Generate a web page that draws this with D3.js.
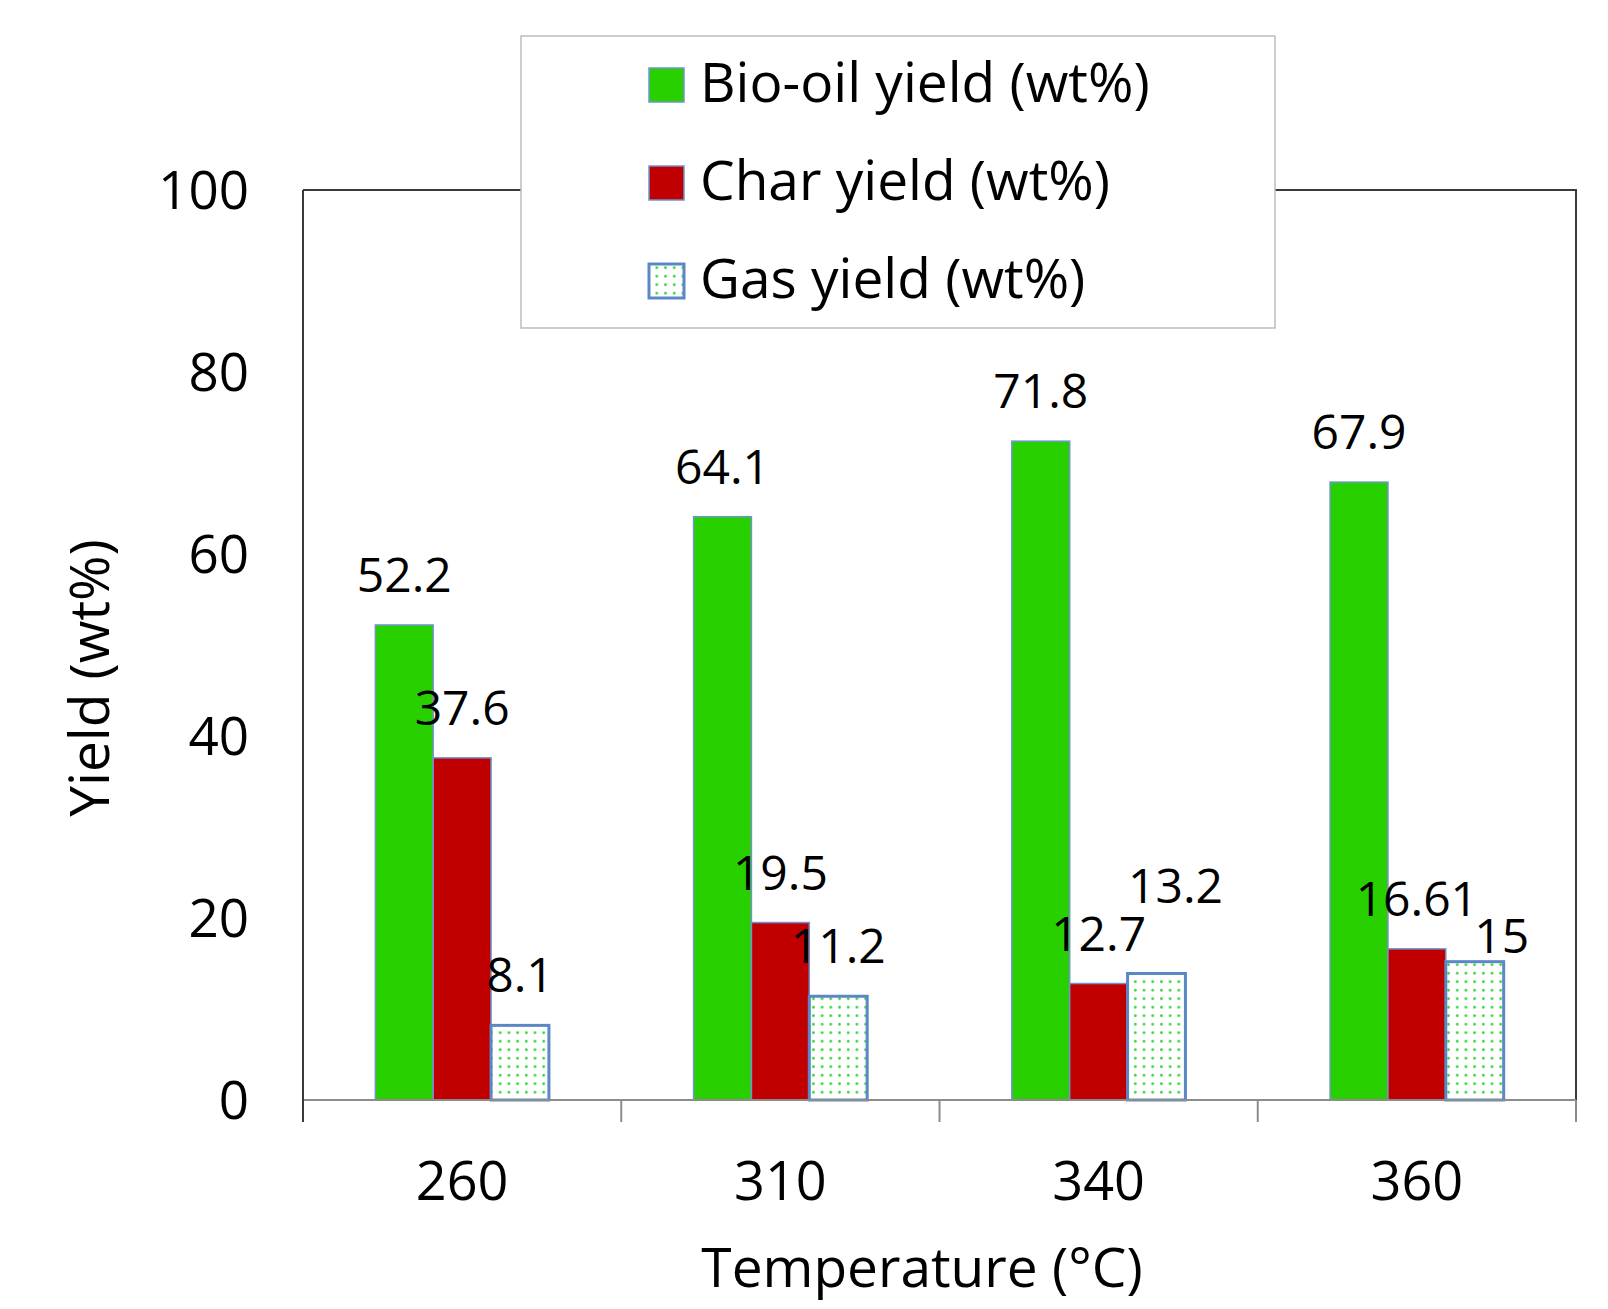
<!DOCTYPE html>
<html>
<head>
<meta charset="utf-8">
<script src="https://cdn.jsdelivr.net/npm/d3@7"></script>
<style>
  html, body { margin: 0; padding: 0; background: #ffffff; }
  svg { display: block; }
  text { font-family: "Open Sans", "Noto Sans", sans-serif; fill: #000; }
</style>
</head>
<body>
<svg id="chart" width="1608" height="1309"></svg>
<script>
// ---- data (bar heights; labels as printed) ----
const categories = ["260", "310", "340", "360"];
const seriesNames = ["Bio-oil yield (wt%)", "Char yield (wt%)", "Gas yield (wt%)"];
const bioOil = [52.2, 64.1, 72.4, 67.9];
const charY = [37.6, 19.5, 12.8, 16.61];
const gasY = [8.2, 11.4, 13.9, 15.2];
const valueLabels = [["52.2", "64.1", "71.8", "67.9"], ["37.6", "19.5", "12.7", "16.61"], ["8.1", "11.2", "13.2", "15"]];
const yTicks = [0, 20, 40, 60, 80, 100];
const xTitle = "Temperature (°C)";
const yTitle = "Yield (wt%)";

const seriesValues = [bioOil, charY, gasY];

// ---- layout ----
const svg = d3.select("#chart");
const L = 303, R = 1576, T = 190, B = 1100;

const x = d3.scaleBand().domain(categories).range([L, R]).padding(0);
const xs = d3.scaleBand().domain(d3.range(3)).range([0, x.bandwidth()]).paddingInner(0).paddingOuter(1.25);
const y = d3.scaleLinear().domain([0, 100]).range([B, T]);

// pattern for gas
const defs = svg.append("defs");
const pat = defs.append("pattern").attr("id", "dots").attr("patternUnits", "userSpaceOnUse")
  .attr("width", 8.7).attr("height", 8.5);
pat.append("rect").attr("width", 8.7).attr("height", 8.5).attr("fill", "#ffffff");
pat.append("circle").attr("cx", 4.3).attr("cy", 4.2).attr("r", 1.4).attr("fill", "#2fd62f");

const fills = ["#29D000", "#C00000", "url(#dots)"];
const strokes = ["#6f95cf", "#6f95cf", "#5b87c6"];
const strokeW = [1.5, 1.5, 3];

// frame (top and right)
svg.append("path")
  .attr("d", `M${L},${T}H${R}V${B}`)
  .attr("fill", "none").attr("stroke", "#3a3a3a").attr("stroke-width", 2);

// bars
seriesValues.forEach((vals, si) => {
  svg.append("g").selectAll("rect").data(vals).join("rect")
    .attr("x", (d, i) => x(categories[i]) + xs(si))
    .attr("y", d => y(d))
    .attr("width", xs.bandwidth())
    .attr("height", d => y(0) - y(d))
    .attr("fill", fills[si])
    .attr("stroke", strokes[si])
    .attr("stroke-width", strokeW[si]);
});

// value labels (manual nudges for two labels as in the original)
const labelNudge = { "2-2": [19, -38], "2-3": [27, 24] };
seriesValues.forEach((vals, si) => {
  svg.append("g").selectAll("text").data(vals).join("text")
    .attr("x", (d, i) => x(categories[i]) + xs(si) + xs.bandwidth() / 2 + ((labelNudge[si + "-" + i] || [0, 0])[0]))
    .attr("y", (d, i) => y(d) - 33 + ((labelNudge[si + "-" + i] || [0, 0])[1]))
    .attr("text-anchor", "middle")
    .attr("font-size", 48)
    .text((d, i) => valueLabels[si][i]);
});

// x axis
const gx = svg.append("g").attr("transform", `translate(0,${B})`);
gx.append("line").attr("x1", L).attr("x2", R).attr("y1", 0).attr("y2", 0)
  .attr("stroke", "#8c8c8c").attr("stroke-width", 2);
const xBounds = categories.map(c => x(c)).concat([R]);
gx.selectAll("line.tk").data(xBounds).join("line").attr("class", "tk")
  .attr("x1", d => d).attr("x2", d => d).attr("y1", 0).attr("y2", 22)
  .attr("stroke", "#8c8c8c").attr("stroke-width", 2);
gx.selectAll("text.cat").data(categories).join("text").attr("class", "cat")
  .attr("x", d => x(d) + x.bandwidth() / 2)
  .attr("y", 100)
  .attr("text-anchor", "middle")
  .attr("font-size", 54)
  .text(d => d);

// y axis
const gy = svg.append("g");
gy.append("line").attr("x1", L).attr("x2", L).attr("y1", T).attr("y2", B + 22)
  .attr("stroke", "#3a3a3a").attr("stroke-width", 2);
gy.selectAll("text").data(yTicks).join("text")
  .attr("x", 249)
  .attr("y", d => y(d))
  .attr("dy", "0.36em")
  .attr("text-anchor", "end")
  .attr("font-size", 53)
  .text(d => d);

// axis titles
svg.append("text")
  .attr("x", 922).attr("y", 1287)
  .attr("text-anchor", "middle")
  .attr("font-size", 55)
  .text(xTitle);
svg.append("text")
  .attr("transform", "translate(109,678) rotate(-90)")
  .attr("text-anchor", "middle")
  .attr("font-size", 55)
  .text(yTitle);

// legend
const lg = svg.append("g");
lg.append("rect").attr("x", 521).attr("y", 36).attr("width", 754).attr("height", 292)
  .attr("fill", "#ffffff").attr("stroke", "#bdbdbd").attr("stroke-width", 1.5);
const legBase = [102, 200, 298];
seriesNames.forEach((name, si) => {
  lg.append("rect")
    .attr("x", 649).attr("y", legBase[si] - 34)
    .attr("width", 35).attr("height", 34)
    .attr("fill", fills[si]).attr("stroke", strokes[si]).attr("stroke-width", strokeW[si]);
  lg.append("text")
    .attr("x", 700).attr("y", legBase[si])
    .attr("font-size", 55)
    .text(name);
});
</script>
</body>
</html>
